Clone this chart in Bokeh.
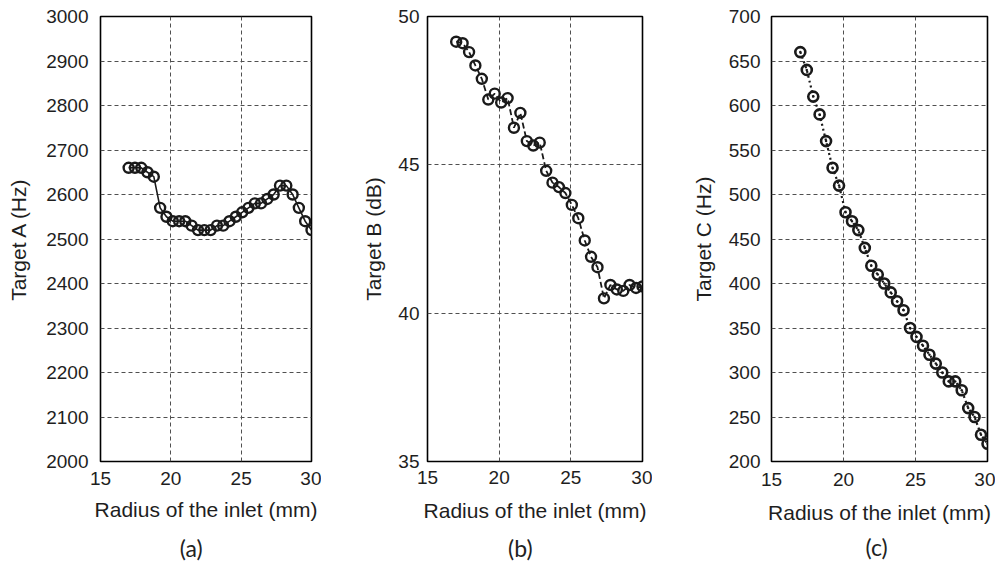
from bokeh.plotting import figure
from bokeh.layouts import row
from bokeh.models import Range1d, FixedTicker, LinearAxis
from bokeh.embed import file_html
from bokeh.resources import INLINE

# ---- data ----
radius_mm = [17.0, 17.45, 17.9, 18.34, 18.79, 19.24, 19.69, 20.14, 20.59, 21.03,
             21.48, 21.93, 22.38, 22.83, 23.28, 23.72, 24.17, 24.62, 25.07, 25.52,
             25.97, 26.41, 26.86, 27.31, 27.76, 28.21, 28.66, 29.1, 29.55, 30.0]
target_a_hz = [2660, 2660, 2660, 2650, 2640, 2570, 2550, 2540, 2540, 2540,
               2530, 2520, 2520, 2520, 2530, 2530, 2540, 2550, 2560, 2570,
               2580, 2580, 2590, 2600, 2620, 2620, 2600, 2570, 2540, 2520]
target_b_db = [49.15, 49.1, 48.8, 48.35, 47.9, 47.2, 47.4, 47.1, 47.25, 46.25,
               46.75, 45.8, 45.65, 45.75, 44.8, 44.4, 44.25, 44.05, 43.65, 43.2,
               42.45, 41.9, 41.55, 40.5, 40.95, 40.8, 40.75, 40.95, 40.85, 40.9]
target_c_hz = [660, 640, 610, 590, 560, 530, 510, 480, 470, 460,
               440, 420, 410, 400, 390, 380, 370, 350, 340, 330,
               320, 310, 300, 290, 290, 280, 260, 250, 230, 220]

x_ticks = [15, 20, 25, 30]
a_ticks = [2000, 2100, 2200, 2300, 2400, 2500, 2600, 2700, 2800, 2900, 3000]
b_ticks = [35, 40, 45, 50]
c_ticks = [200, 250, 300, 350, 400, 450, 500, 550, 600, 650, 700]
panel_tags = ["(a)", "(b)", "(c)"]

FONT = "Liberation Sans"
INK = "#1a1a1a"
TOTAL_H = 567
NB = "\u00a0"


def make_panel(ylabel, yticks, yrange, left, fw, right, top, fh,
               tick_so, lab_so, xtick_so, xlab_so, tag, tag_so, tag_pad):
    p = figure(width=left + fw + right, height=TOTAL_H,
               min_border_left=left, min_border_right=right,
               min_border_top=top, min_border_bottom=TOTAL_H - top - fh,
               x_range=Range1d(15, 30), y_range=Range1d(*yrange),
               output_backend="svg", toolbar_location=None)
    p.outline_line_color = "black"
    p.outline_line_width = 1.6
    p.background_fill_color = "white"
    p.border_fill_color = "white"
    p.xaxis.ticker = FixedTicker(ticks=x_ticks)
    p.yaxis.ticker = FixedTicker(ticks=yticks)
    p.xaxis.axis_label = "Radius of the inlet (mm)"
    p.yaxis.axis_label = ylabel
    for ax in (p.xaxis, p.yaxis):
        ax.axis_line_color = None
        ax.major_tick_line_color = None
        ax.minor_tick_line_color = None
        ax.major_tick_out = 0
        ax.major_tick_in = 0
        ax.major_label_text_font = FONT
        ax.major_label_text_font_size = "19px"
        ax.major_label_text_color = "#1e1e1e"
        ax.axis_label_text_font = FONT
        ax.axis_label_text_font_size = "21px"
        ax.axis_label_text_font_style = "normal"
        ax.axis_label_text_color = "#1e1e1e"
    p.xaxis.major_label_standoff = xtick_so
    p.xaxis.axis_label_standoff = xlab_so
    p.yaxis.major_label_standoff = tick_so
    p.yaxis.axis_label_standoff = lab_so
    for g in (p.xgrid, p.ygrid):
        g.grid_line_color = "#505050"
        g.grid_line_dash = "4 3"
        g.grid_line_width = 1
    p.xgrid.ticker = FixedTicker(ticks=x_ticks)
    p.ygrid.ticker = FixedTicker(ticks=yticks)

    # panel tag "(a)" etc. as the label of a bare axis under the x axis
    tag_axis = LinearAxis(ticker=FixedTicker(ticks=[]), axis_label=tag + NB * tag_pad,
                          axis_line_color=None, major_tick_line_color=None,
                          minor_tick_line_color=None, major_tick_out=0, major_tick_in=0,
                          minor_tick_out=0, minor_tick_in=0,
                          axis_label_standoff=tag_so,
                          axis_label_text_font="Lato",
                          axis_label_text_font_size="23px",
                          axis_label_text_font_style="normal",
                          axis_label_text_color="#222222")
    p.add_layout(tag_axis, "below")
    return p


pa = make_panel("Target A (Hz)", a_ticks, (2000, 3000), 100, 211, 10, 16, 445,
                12, 13, 10, 10, panel_tags[0], 10, 5)
pa.line(radius_mm, target_a_hz, line_color=INK, line_width=1.6)
pa.scatter(radius_mm, target_a_hz, marker="circle", size=10, fill_color=None,
           line_color=INK, line_width=2.4)

pb = make_panel("Target B (dB)", b_ticks, (35, 50), 106, 215, 10, 13, 452,
                8, 10, 9, 12, panel_tags[1], 9, 5)
pb.line(radius_mm, target_b_db, line_color=INK, line_width=1.8, line_dash="6 3")
pb.scatter(radius_mm, target_b_db, marker="circle", size=10, fill_color=None,
           line_color=INK, line_width=2.4)

pc = make_panel("Target C (Hz)", c_ticks, (200, 700), 119, 216, 8, 12, 455,
                11, 11, 11, 12, panel_tags[2], 6, 1)
pc.line(radius_mm, target_c_hz, line_color=INK, line_width=2.2, line_dash="2 3")
pc.scatter(radius_mm, target_c_hz, marker="circle_dot", size=10, fill_color=None,
           line_color=INK, line_width=2.6)

layout = row(pa, pb, pc, spacing=0)
open("out.html", "w").write(file_html(layout, INLINE))
